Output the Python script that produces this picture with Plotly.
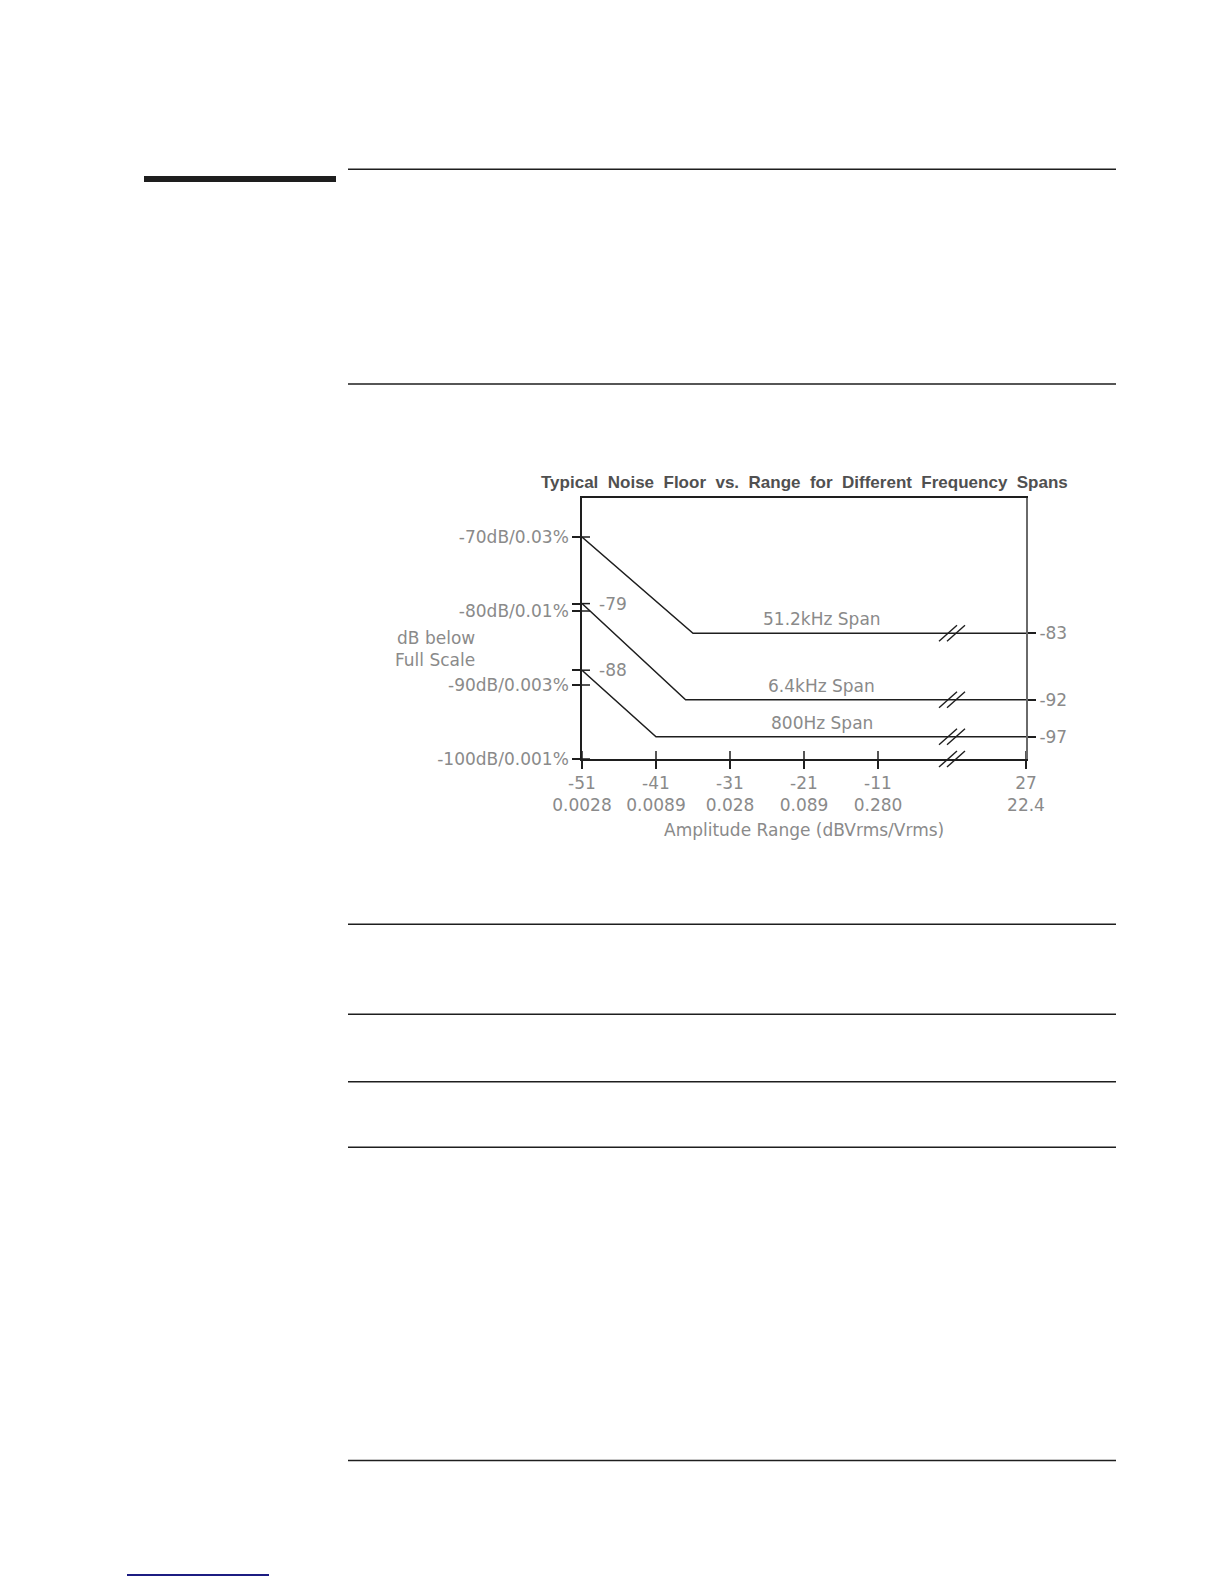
import plotly.graph_objects as go

# Typical noise floor (dB below full scale) vs. amplitude range (dBVrms)
spans = ["51.2kHz Span", "6.4kHz Span", "800Hz Span"]
range_51k = [-51, -36, 27]
floor_51k = [-70, -83, -83]
range_6k4 = [-51, -37, 27]
floor_6k4 = [-79, -92, -92]
range_800 = [-51, -41, 27]
floor_800 = [-88, -97, -97]

start_labels = ["-79", "-88"]
start_values = [-79, -88]
end_labels = ["-83", "-92", "-97"]
end_values = [-83, -92, -97]

x_ticks = [-51, -41, -31, -21, -11, 27]
x_vrms = ["0.0028", "0.0089", "0.028", "0.089", "0.280", "22.4"]
y_ticks = [-100, -90, -80, -70]
y_labels = ["-100dB/0.001%", "-90dB/0.003%", "-80dB/0.01%", "-70dB/0.03%"]

# the x axis is broken after -11, the rest up to 27 is squeezed
BREAK_FROM = -11
BREAK_MARK = 8


def xpos(v):
    if v <= BREAK_FROM:
        return v
    return BREAK_FROM + (v - BREAK_FROM) * 20 / 38


# page geometry in pixels; the browser body adds an 8px margin
OFF = 8
W, H = 1224 - 2 * OFF, 1584 - 2 * OFF
L, T = 582 - OFF, 498 - OFF
PW, PH = 444, 261
R, B = W - L - PW, H - T - PH


def page_x(px):
    return (px - OFF - L) / PW


def page_y(py):
    return (T + PH - (py - OFF)) / PH


INK = "#1e1e1e"
GREY = "#8a8a8a"
FONT = "DejaVu Sans"

fig = go.Figure()

curves = [(range_51k, floor_51k), (range_6k4, floor_6k4), (range_800, floor_800)]
for name, (xs, ys) in zip(spans, curves):
    fig.add_trace(go.Scatter(
        x=[xpos(v) for v in xs], y=ys,
        mode="lines",
        line=dict(color=INK, width=1.5),
        name=name, showlegend=False, hoverinfo="skip",
    ))

# invisible trace so the right-hand axis gets drawn
fig.add_trace(go.Scatter(
    x=[xpos(27)] * len(end_values), y=end_values, yaxis="y2",
    mode="markers", marker=dict(opacity=0), showlegend=False, hoverinfo="skip",
))

shapes = []

# inner halves of the crossing tick marks
for v in y_ticks + start_values:
    shapes.append(dict(type="line", xref="x", xsizemode="pixel", xanchor=-51,
                       x0=0, x1=8, yref="y", y0=v, y1=v,
                       line=dict(color=INK, width=1.5)))
for v in x_ticks:
    shapes.append(dict(type="line", xref="x", x0=xpos(v), x1=xpos(v),
                       yref="y", ysizemode="pixel", yanchor=-100, y0=0, y1=8,
                       line=dict(color=INK, width=1.5)))

# "//" break marks on every line and on the x axis
for level in [floor_51k[-1], floor_6k4[-1], floor_800[-1], None]:
    for c in (-4, 4):
        s = dict(type="line", xref="x", xsizemode="pixel", xanchor=xpos(BREAK_MARK),
                 x0=c - 9, x1=c + 9, ysizemode="pixel", y0=-8, y1=8,
                 line=dict(color=INK, width=1.4))
        if level is None:
            s.update(yref="paper", yanchor=0)
        else:
            s.update(yref="y", yanchor=level)
        shapes.append(s)

# page rules around the figure
for py in [169.3, 384, 924.3, 1014.3, 1081.7, 1147.3, 1460.5]:
    shapes.append(dict(type="line", xref="paper", yref="paper",
                       x0=page_x(348), x1=page_x(1116), y0=page_y(py), y1=page_y(py),
                       line=dict(color=INK, width=1.6)))
shapes.append(dict(type="rect", xref="paper", yref="paper",
                   x0=page_x(144), x1=page_x(336), y0=page_y(176), y1=page_y(182),
                   fillcolor=INK, line=dict(width=0)))
shapes.append(dict(type="line", xref="paper", yref="paper",
                   x0=page_x(127), x1=page_x(269), y0=page_y(1575), y1=page_y(1575),
                   line=dict(color="#1c1c82", width=2)))

annotations = []
for text, v in zip(start_labels, start_values):
    annotations.append(dict(x=-51, y=v, xref="x", yref="y", text=text,
                            showarrow=False, xanchor="left", xshift=15))

label_x = -18.6
for text, ys in zip(spans, [floor_51k, floor_6k4, floor_800]):
    annotations.append(dict(x=label_x, y=ys[-1], xref="x", yref="y", text=text,
                            showarrow=False, yanchor="middle", yshift=14))

annotations.append(dict(x=0, y=page_y(649), xref="paper", yref="paper",
                        text="dB below<br>Full Scale", align="right",
                        showarrow=False, xanchor="right", xshift=-105))
annotations.append(dict(x=0.5, y=0, xref="paper", yref="paper",
                        text="Amplitude Range (dBVrms/Vrms)",
                        showarrow=False, yanchor="middle", yshift=-71))

gap = "&nbsp; "
title = gap.join("Typical Noise Floor vs. Range for Different Frequency Spans".split())
annotations.append(dict(x=0.5, y=page_y(482.5), xref="paper", yref="paper",
                        text="<b>" + title + "</b>", showarrow=False,
                        xanchor="center", yanchor="middle",
                        font=dict(family="Liberation Sans", size=17, color="#505050")))

y_range = [-100, -100 + PH / 7.4]

fig.update_layout(
    width=W, height=H,
    margin=dict(l=L, r=R, t=T, b=B, pad=0),
    paper_bgcolor="white", plot_bgcolor="white",
    font=dict(family=FONT, size=17, color=GREY),
    showlegend=False,
    xaxis=dict(
        range=[-51, xpos(27)],
        tickvals=[xpos(v) for v in x_ticks],
        ticktext=[f"{a}<br>{b}" for a, b in zip(x_ticks, x_vrms)],
        ticks="outside", ticklen=8, tickwidth=1.5, tickcolor=INK,
        showline=True, linecolor=INK, linewidth=1.6, mirror=True,
        showgrid=False, zeroline=False,
    ),
    yaxis=dict(
        range=y_range,
        tickvals=y_ticks + start_values,
        ticktext=y_labels + ["", ""],
        ticks="outside", ticklen=8, tickwidth=1.5, tickcolor=INK,
        showline=True, linecolor=INK, linewidth=1.6,
        showgrid=False, zeroline=False,
    ),
    yaxis2=dict(
        overlaying="y", side="right", range=y_range,
        tickvals=end_values, ticktext=end_labels,
        ticks="outside", ticklen=8, tickwidth=1.5, tickcolor=INK,
        showline=True, linecolor="#6a6a6a", linewidth=2,
        showgrid=False, zeroline=False,
    ),
    shapes=shapes,
    annotations=annotations,
)

fig.write_html("out.html")
